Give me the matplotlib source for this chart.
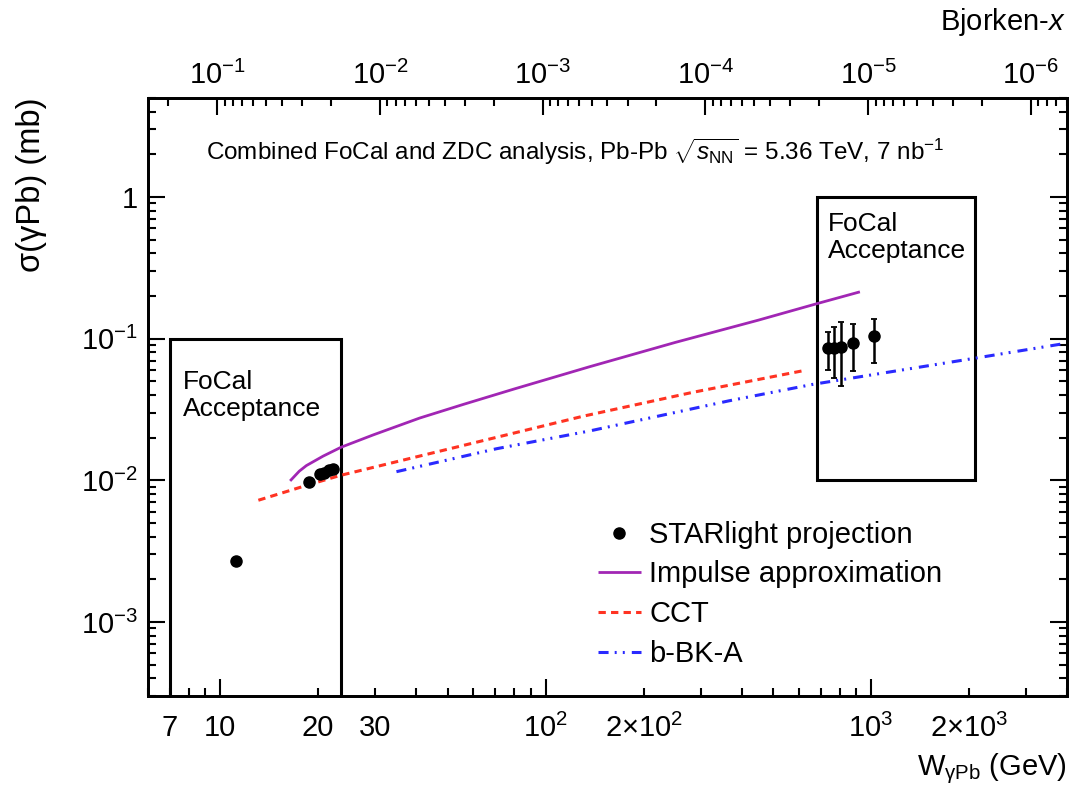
import matplotlib
matplotlib.use("Agg")
import matplotlib.pyplot as plt
import numpy as np
from matplotlib.patches import Rectangle
from matplotlib.ticker import FixedLocator, FuncFormatter, LogLocator, NullFormatter

plt.rcParams["font.family"] = ["Liberation Sans", "DejaVu Sans"]
plt.rcParams["mathtext.fontset"] = "custom"
plt.rcParams["mathtext.rm"] = "Liberation Sans"
plt.rcParams["mathtext.it"] = "Liberation Sans:italic"
plt.rcParams["mathtext.bf"] = "Liberation Sans:bold"

# STARlight projection points (W in GeV, sigma in mb)
star_w = [11.2, 18.7, 20.3, 20.8, 21.6, 22.2, 735, 771, 811, 877, 1021]
star_sigma = [0.0027, 0.0097, 0.0110, 0.0113, 0.0118, 0.0121, 0.0865, 0.0865, 0.088, 0.0927, 0.105]
star_err_lo = [0, 0, 0, 0, 0, 0, 0.026, 0.034, 0.0417, 0.0339, 0.0378]
star_err_hi = [0, 0, 0, 0, 0, 0, 0.0255, 0.0335, 0.043, 0.0333, 0.033]

# Impulse approximation
ia_w = [16.4, 17.5, 18.4, 20.7, 23.5, 29.5, 41, 56, 80, 136, 250, 450, 684, 924]
ia_sigma = [0.0099, 0.0116, 0.0127, 0.0148, 0.0171, 0.0209, 0.0275, 0.0344, 0.0441, 0.0632, 0.094, 0.135, 0.177, 0.214]

# CCT
cct_w = [13.1, 18.4, 23.3, 55.7, 130, 282, 628]
cct_sigma = [0.00723, 0.0092, 0.0108, 0.0176, 0.0283, 0.0417, 0.0598]

# b-BK-A
bbk_w = [34.8, 70.6, 136.5, 366, 660, 2143, 4000]
bbk_sigma = [0.0115, 0.0167, 0.0223, 0.0364, 0.0475, 0.0735, 0.093]

# FoCal acceptance windows: (W_lo, W_hi, sigma_lo, sigma_hi)
acc_low = (7.0, 23.5, 1e-5, 0.1)
acc_high = (680.0, 2080.0, 0.01, 1.0)

xtick_vals = [7, 10, 20, 30, 100, 200, 1000, 2000]
xtick_labels = ["7", "10", "20", "30", r"$10^{2}$", r"$2{\times}10^{2}$", r"$10^{3}$", r"$2{\times}10^{3}$"]
ytick_vals = [1e-3, 1e-2, 1e-1, 1]
ytick_labels = [r"$10^{-3}$", r"$10^{-2}$", r"$10^{-1}$", "1"]
bjx_vals = [1e-1, 1e-2, 1e-3, 1e-4, 1e-5, 1e-6]
bjx_labels = [r"$10^{-1}$", r"$10^{-2}$", r"$10^{-3}$", r"$10^{-4}$", r"$10^{-5}$", r"$10^{-6}$"]

M_JPSI = 3.097
W_MIN, W_MAX = 6.0, 4000.0
Y_MIN, Y_MAX = 3e-4, 5.0
FS = 21


def bjorken_x(w):
    return (M_JPSI / np.asarray(w, dtype=float)) ** 2


def label_at(vals, labels):
    def fmt(v, pos):
        for tv, tl in zip(vals, labels):
            if np.isclose(v, tv, rtol=1e-6):
                return tl
        return ""
    return FuncFormatter(fmt)


fig = plt.figure(figsize=(10.74, 7.86), dpi=100)
ax = fig.add_axes([148 / 1074, 90 / 786, 919 / 1074, 598 / 786])
ax.set_xscale("log")
ax.set_yscale("log")
ax.set_xlim(W_MIN, W_MAX)
ax.set_ylim(Y_MIN, Y_MAX)

ax.plot(ia_w, ia_sigma, color="#a126b4", lw=2.0, solid_capstyle="butt", label="Impulse approximation")
ax.plot(cct_w, cct_sigma, color="#ff3322", lw=2.2, dashes=(2.4, 1.7), label="CCT")
ax.plot(bbk_w, bbk_sigma, color="#2a2aff", lw=2.2,
        dashes=(3.3, 2.0, 0.65, 2.0, 0.65, 2.3), label="b-BK-A")

ax.errorbar(star_w, star_sigma, yerr=[star_err_lo, star_err_hi], fmt="none",
            ecolor="black", elinewidth=1.8, capsize=2.0, capthick=1.3)
ax.plot(star_w, star_sigma, "o", color="black", ms=8, ls="none", label="STARlight projection")

for w0, w1, s0, s1 in (acc_low, acc_high):
    ax.add_patch(Rectangle((w0, s0), w1 - w0, s1 - s0, fill=False, ec="black", lw=2.2, zorder=1))

ax.text(7.7, 0.06, "FoCal\nAcceptance", fontsize=19, va="top", ha="left", linespacing=1.15)
ax.text(737, 0.78, "FoCal\nAcceptance", fontsize=19, va="top", ha="left", linespacing=1.15)

ax.text(0.465, 0.91, r"Combined FoCal and ZDC analysis, Pb-Pb $\sqrt{s_{\mathrm{NN}}}$ = 5.36 TeV, 7 nb$^{\mathrm{-1}}$",
        transform=ax.transAxes, ha="center", va="center", fontsize=17.5)

# bottom axis: W
ax.xaxis.set_major_locator(FixedLocator([10, 100, 1000]))
ax.xaxis.set_minor_locator(LogLocator(base=10, subs=np.arange(2, 10), numticks=20))
ax.xaxis.set_major_formatter(label_at(xtick_vals, xtick_labels))
ax.xaxis.set_minor_formatter(label_at(xtick_vals, xtick_labels))

# left axis: sigma
ax.yaxis.set_major_locator(FixedLocator(ytick_vals))
ax.yaxis.set_minor_locator(LogLocator(base=10, subs=np.arange(2, 10), numticks=20))
ax.yaxis.set_major_formatter(label_at(ytick_vals, ytick_labels))
ax.yaxis.set_minor_formatter(NullFormatter())

ax.tick_params(which="both", direction="in", labelsize=FS, width=1.5, colors="black")
ax.tick_params(which="major", length=12)
ax.tick_params(which="minor", length=6)
ax.tick_params(axis="x", which="both", top=False, bottom=True, pad=13)
ax.tick_params(axis="y", which="both", left=True, right=True, pad=7)
for sp in ax.spines.values():
    sp.set_linewidth(2.0)

# top axis: Bjorken-x, log in x is linear in log W
ax2 = ax.twiny()
ax2.set_xscale("log")
ax2.set_xlim(bjorken_x(W_MIN), bjorken_x(W_MAX))
ax2.xaxis.set_major_locator(FixedLocator(bjx_vals))
ax2.xaxis.set_minor_locator(LogLocator(base=10, subs=np.arange(2, 10), numticks=20))
ax2.xaxis.set_major_formatter(label_at(bjx_vals, bjx_labels))
ax2.xaxis.set_minor_formatter(NullFormatter())
ax2.tick_params(which="both", direction="in", labelsize=FS, width=1.5, pad=6)
ax2.tick_params(which="major", length=12)
ax2.tick_params(which="minor", length=6)
for sp in ax2.spines.values():
    sp.set_linewidth(2.0)

handles, labels = ax.get_legend_handles_labels()
order = [labels.index(n) for n in ("STARlight projection", "Impulse approximation", "CCT", "b-BK-A")]
ax.legend([handles[i] for i in order], [labels[i] for i in order], loc="upper left",
          bbox_to_anchor=(0.49, 0.293), frameon=False, fontsize=FS, handlelength=1.45,
          handletextpad=0.3, labelspacing=0.4, borderpad=0, borderaxespad=0)

fig.text(32 / 1074, 1 - 97 / 786, r"σ(γPb) (mb)", rotation=90, ha="center", va="top", fontsize=23.5)
fig.text(1067 / 1074, 1 - 775 / 786, r"W$_{\mathrm{γPb}}$ (GeV)", ha="right", va="baseline", fontsize=FS)
fig.text(1066 / 1074, 1 - 30 / 786, r"Bjorken-$x$", ha="right", va="baseline", fontsize=FS)

fig.savefig("out.png", dpi=100)
